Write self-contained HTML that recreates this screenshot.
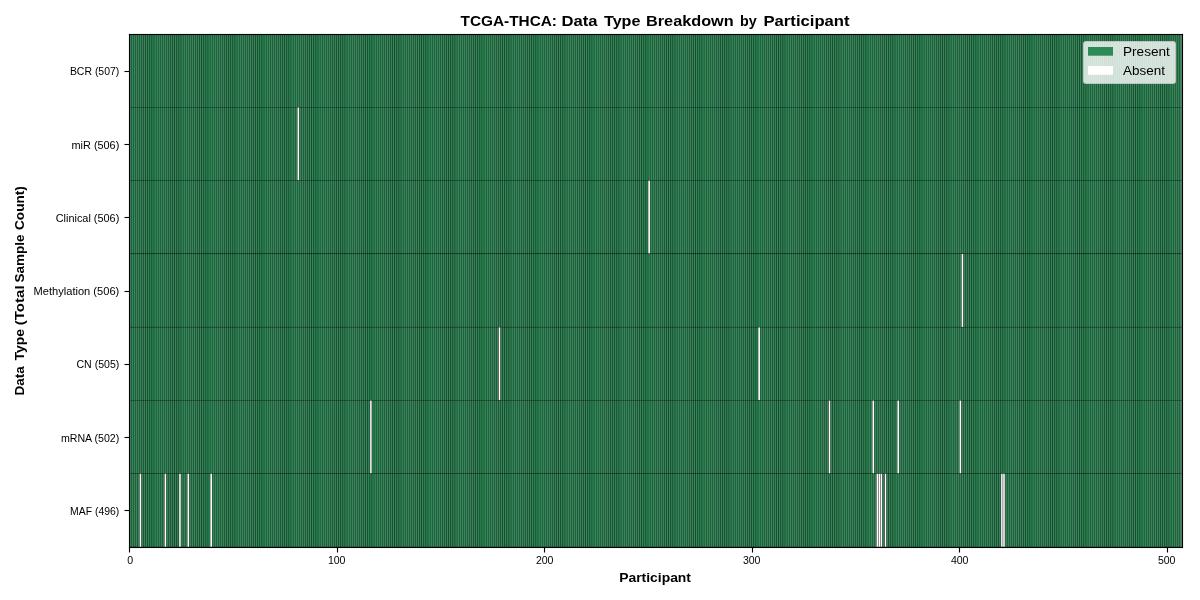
<!DOCTYPE html>
<html><head><meta charset="utf-8"><title>TCGA-THCA: Data Type Breakdown by Participant</title><style>
html,body{margin:0;padding:0;background:#fff;width:1200px;height:600px;overflow:hidden}
svg{display:block;will-change:transform}
text{font-family:"Liberation Sans",sans-serif;fill:#000}
.tk{font-size:10.3px}
.ttl{font-size:14.7px;font-weight:bold}
.lab{font-size:13.2px;font-weight:bold}
.leg{font-size:13.2px}
</style></head><body>
<svg width="1200" height="600" viewBox="0 0 1200 600">
<g shape-rendering="crispEdges" stroke-width="1"><path stroke="#000000" d="M129.5 35V547"/><path stroke="#2b8352" d="M130.5 35V547M341.5 35V547M588.5 35V547M945.5 35V547"/><path stroke="#2a5b40" d="M131.5 35V547M515.5 35V547M625.5 35V547M872.5 35V547M982.5 35V547M1119.5 35V547"/><path stroke="#2e8b57" d="M132.5 35V547M134.5 35V547M136.5 35V547M138.5 35V547M140.5 35V547M142.5 35V547M144.5 35V547M146.5 35V547M157.5 35V547M159.5 35V547M161.5 35V547M163.5 35V547M165.5 35V547M167.5 35V547M169.5 35V547M171.5 35V547M173.5 35V547M175.5 35V547M184.5 35V547M186.5 35V547M188.5 35V547M190.5 35V547M192.5 35V547M194.5 35V547M196.5 35V547M198.5 35V547M200.5 35V547M202.5 35V547M211.5 35V547M213.5 35V547M215.5 35V547M217.5 35V547M219.5 35V547M221.5 35V547M223.5 35V547M225.5 35V547M227.5 35V547M229.5 35V547M238.5 35V547M240.5 35V547M242.5 35V547M244.5 35V547M246.5 35V547M248.5 35V547M250.5 35V547M252.5 35V547M254.5 35V547M256.5 35V547M267.5 35V547M269.5 35V547M271.5 35V547M273.5 35V547M275.5 35V547M277.5 35V547M279.5 35V547M281.5 35V547M283.5 35V547M294.5 35V547M296.5 35V547M298.5 35V547M300.5 35V547M302.5 35V547M304.5 35V547M306.5 35V547M308.5 35V547M310.5 35V547M312.5 35V547M321.5 35V547M323.5 35V547M325.5 35V547M327.5 35V547M329.5 35V547M331.5 35V547M333.5 35V547M335.5 35V547M337.5 35V547M339.5 35V547M348.5 35V547M350.5 35V547M352.5 35V547M354.5 35V547M356.5 35V547M358.5 35V547M360.5 35V547M362.5 35V547M364.5 35V547M366.5 35V547M377.5 35V547M379.5 35V547M381.5 35V547M383.5 35V547M385.5 35V547M387.5 35V547M389.5 35V547M391.5 35V547M393.5 35V547M404.5 35V547M406.5 35V547M408.5 35V547M410.5 35V547M412.5 35V547M414.5 35V547M416.5 35V547M418.5 35V547M420.5 35V547M422.5 35V547M431.5 35V547M433.5 35V547M435.5 35V547M437.5 35V547M439.5 35V547M441.5 35V547M443.5 35V547M445.5 35V547M447.5 35V547M449.5 35V547M458.5 35V547M460.5 35V547M462.5 35V547M464.5 35V547M466.5 35V547M468.5 35V547M470.5 35V547M472.5 35V547M474.5 35V547M476.5 35V547M487.5 35V547M489.5 35V547M491.5 35V547M493.5 35V547M495.5 35V547M497.5 35V547M499.5 35V547M501.5 35V547M503.5 35V547M514.5 35V547M516.5 35V547M518.5 35V547M520.5 35V547M522.5 35V547M524.5 35V547M526.5 35V547M528.5 35V547M530.5 35V547M541.5 35V547M543.5 35V547M545.5 35V547M547.5 35V547M549.5 35V547M551.5 35V547M553.5 35V547M555.5 35V547M557.5 35V547M559.5 35V547M568.5 35V547M570.5 35V547M572.5 35V547M574.5 35V547M576.5 35V547M578.5 35V547M580.5 35V547M582.5 35V547M584.5 35V547M586.5 35V547M595.5 35V547M597.5 35V547M599.5 35V547M601.5 35V547M603.5 35V547M605.5 35V547M607.5 35V547M609.5 35V547M611.5 35V547M613.5 35V547M624.5 35V547M626.5 35V547M628.5 35V547M630.5 35V547M632.5 35V547M634.5 35V547M636.5 35V547M638.5 35V547M640.5 35V547M651.5 35V547M653.5 35V547M655.5 35V547M657.5 35V547M659.5 35V547M661.5 35V547M663.5 35V547M665.5 35V547M667.5 35V547M669.5 35V547M678.5 35V547M680.5 35V547M682.5 35V547M684.5 35V547M686.5 35V547M688.5 35V547M690.5 35V547M692.5 35V547M694.5 35V547M696.5 35V547M705.5 35V547M707.5 35V547M709.5 35V547M711.5 35V547M713.5 35V547M715.5 35V547M717.5 35V547M719.5 35V547M721.5 35V547M723.5 35V547M734.5 35V547M736.5 35V547M738.5 35V547M740.5 35V547M742.5 35V547M744.5 35V547M746.5 35V547M748.5 35V547M750.5 35V547M761.5 35V547M763.5 35V547M765.5 35V547M767.5 35V547M769.5 35V547M771.5 35V547M773.5 35V547M775.5 35V547M777.5 35V547M788.5 35V547M790.5 35V547M792.5 35V547M794.5 35V547M796.5 35V547M798.5 35V547M800.5 35V547M802.5 35V547M804.5 35V547M806.5 35V547M815.5 35V547M817.5 35V547M819.5 35V547M821.5 35V547M823.5 35V547M825.5 35V547M827.5 35V547M829.5 35V547M831.5 35V547M833.5 35V547M842.5 35V547M844.5 35V547M846.5 35V547M848.5 35V547M850.5 35V547M852.5 35V547M854.5 35V547M856.5 35V547M858.5 35V547M860.5 35V547M871.5 35V547M873.5 35V547M875.5 35V547M877.5 35V547M879.5 35V547M881.5 35V547M883.5 35V547M885.5 35V547M887.5 35V547M898.5 35V547M900.5 35V547M902.5 35V547M904.5 35V547M906.5 35V547M908.5 35V547M910.5 35V547M912.5 35V547M914.5 35V547M916.5 35V547M925.5 35V547M927.5 35V547M929.5 35V547M931.5 35V547M933.5 35V547M935.5 35V547M937.5 35V547M939.5 35V547M941.5 35V547M943.5 35V547M952.5 35V547M954.5 35V547M956.5 35V547M958.5 35V547M960.5 35V547M962.5 35V547M964.5 35V547M966.5 35V547M968.5 35V547M970.5 35V547M981.5 35V547M983.5 35V547M985.5 35V547M987.5 35V547M989.5 35V547M991.5 35V547M993.5 35V547M995.5 35V547M997.5 35V547M1008.5 35V547M1010.5 35V547M1012.5 35V547M1014.5 35V547M1016.5 35V547M1018.5 35V547M1020.5 35V547M1022.5 35V547M1024.5 35V547M1035.5 35V547M1037.5 35V547M1039.5 35V547M1041.5 35V547M1043.5 35V547M1045.5 35V547M1047.5 35V547M1049.5 35V547M1051.5 35V547M1053.5 35V547M1062.5 35V547M1064.5 35V547M1066.5 35V547M1068.5 35V547M1070.5 35V547M1072.5 35V547M1074.5 35V547M1076.5 35V547M1078.5 35V547M1080.5 35V547M1089.5 35V547M1091.5 35V547M1093.5 35V547M1095.5 35V547M1097.5 35V547M1099.5 35V547M1101.5 35V547M1103.5 35V547M1105.5 35V547M1107.5 35V547M1118.5 35V547M1120.5 35V547M1122.5 35V547M1124.5 35V547M1126.5 35V547M1128.5 35V547M1130.5 35V547M1132.5 35V547M1134.5 35V547M1145.5 35V547M1147.5 35V547M1149.5 35V547M1151.5 35V547M1153.5 35V547M1155.5 35V547M1157.5 35V547M1159.5 35V547M1161.5 35V547M1163.5 35V547M1172.5 35V547M1174.5 35V547M1176.5 35V547M1178.5 35V547M1180.5 35V547"/><path stroke="#2c5a41" d="M133.5 35V547M270.5 35V547M380.5 35V547M490.5 35V547M517.5 35V547M627.5 35V547M737.5 35V547M764.5 35V547M874.5 35V547M984.5 35V547M1121.5 35V547"/><path stroke="#2e5941" d="M135.5 35V547M162.5 35V547M189.5 35V547M245.5 35V547M272.5 35V547M299.5 35V547M382.5 35V547M409.5 35V547M436.5 35V547M492.5 35V547M519.5 35V547M546.5 35V547M629.5 35V547M656.5 35V547M683.5 35V547M739.5 35V547M766.5 35V547M793.5 35V547M849.5 35V547M876.5 35V547M903.5 35V547M986.5 35V547M1013.5 35V547M1040.5 35V547M1096.5 35V547M1123.5 35V547M1150.5 35V547"/><path stroke="#2e5740" d="M137.5 35V547M164.5 35V547M191.5 35V547M247.5 35V547M274.5 35V547M357.5 35V547M384.5 35V547M411.5 35V547M494.5 35V547M521.5 35V547M604.5 35V547M631.5 35V547M741.5 35V547M768.5 35V547M851.5 35V547M878.5 35V547M988.5 35V547M1015.5 35V547M1098.5 35V547M1125.5 35V547"/><path stroke="#2d543f" d="M139.5 35V547"/><path stroke="#2b523c" d="M141.5 35V547M388.5 35V547M635.5 35V547"/><path stroke="#294e39" d="M143.5 35V547M280.5 35V547M390.5 35V547M527.5 35V547M637.5 35V547M774.5 35V547M884.5 35V547M1131.5 35V547"/><path stroke="#254a35" d="M145.5 35V547M392.5 35V547"/><path stroke="#224932" d="M147.5 35V547"/><path stroke="#2d8855" d="M148.5 35V547M395.5 35V547M642.5 35V547M889.5 35V547"/><path stroke="#225337" d="M149.5 35V547M396.5 35V547M643.5 35V547"/><path stroke="#297d4e" d="M150.5 35V547M397.5 35V547M754.5 35V547M1001.5 35V547"/><path stroke="#1e5c3a" d="M151.5 35V547M398.5 35V547"/><path stroke="#267348" d="M152.5 35V547M399.5 35V547M646.5 35V547"/><path stroke="#246f46" d="M153.5 35V547M400.5 35V547"/><path stroke="#296a46" d="M154.5 35V547M511.5 35V547M758.5 35V547"/><path stroke="#2a8351" d="M155.5 35V547M402.5 35V547M649.5 35V547"/><path stroke="#296041" d="M156.5 35V547M403.5 35V547"/><path stroke="#2a5c40" d="M158.5 35V547"/><path stroke="#2c5b41" d="M160.5 35V547M187.5 35V547M324.5 35V547M434.5 35V547M544.5 35V547M571.5 35V547M654.5 35V547M681.5 35V547M791.5 35V547M818.5 35V547M901.5 35V547M928.5 35V547M1011.5 35V547M1038.5 35V547M1065.5 35V547M1148.5 35V547M1175.5 35V547"/><path stroke="#2e553f" d="M166.5 35V547M193.5 35V547M303.5 35V547M413.5 35V547M440.5 35V547M550.5 35V547M660.5 35V547M687.5 35V547M797.5 35V547M907.5 35V547M934.5 35V547M1044.5 35V547M1154.5 35V547"/><path stroke="#2c523d" d="M168.5 35V547M415.5 35V547M525.5 35V547M662.5 35V547M772.5 35V547M909.5 35V547M1019.5 35V547M1156.5 35V547"/><path stroke="#294f39" d="M170.5 35V547M417.5 35V547M664.5 35V547M911.5 35V547M1021.5 35V547M1158.5 35V547"/><path stroke="#254a36" d="M172.5 35V547M282.5 35V547M419.5 35V547M529.5 35V547M639.5 35V547M666.5 35V547M776.5 35V547M886.5 35V547M913.5 35V547M1023.5 35V547M1133.5 35V547"/><path stroke="#204631" d="M174.5 35V547M421.5 35V547"/><path stroke="#225037" d="M176.5 35V547M917.5 35V547M1164.5 35V547"/><path stroke="#2a8050" d="M177.5 35V547M424.5 35V547M671.5 35V547M918.5 35V547"/><path stroke="#205a39" d="M178.5 35V547M425.5 35V547M672.5 35V547M1166.5 35V547"/><path stroke="#267549" d="M179.5 35V547M236.5 35V547M426.5 35V547M483.5 35V547M730.5 35V547M783.5 35V547M1030.5 35V547"/><path stroke="#236b43" d="M180.5 35V547"/><path stroke="#286c47" d="M181.5 35V547M428.5 35V547M675.5 35V547"/><path stroke="#2a7f4f" d="M182.5 35V547M287.5 35V547M429.5 35V547M534.5 35V547M781.5 35V547M786.5 35V547M1028.5 35V547M1033.5 35V547"/><path stroke="#296242" d="M183.5 35V547M540.5 35V547M787.5 35V547M1034.5 35V547"/><path stroke="#295b3f" d="M185.5 35V547M212.5 35V547M322.5 35V547M432.5 35V547M542.5 35V547M596.5 35V547M706.5 35V547M789.5 35V547M816.5 35V547M926.5 35V547M953.5 35V547M1036.5 35V547M1063.5 35V547M1173.5 35V547"/><path stroke="#2c533d" d="M195.5 35V547M305.5 35V547M442.5 35V547M552.5 35V547M689.5 35V547M799.5 35V547M936.5 35V547M1046.5 35V547"/><path stroke="#2a503a" d="M197.5 35V547M444.5 35V547M691.5 35V547M801.5 35V547M938.5 35V547M1048.5 35V547"/><path stroke="#264c37" d="M199.5 35V547M446.5 35V547M693.5 35V547"/><path stroke="#224732" d="M201.5 35V547M448.5 35V547M695.5 35V547M942.5 35V547"/><path stroke="#214e35" d="M203.5 35V547M450.5 35V547"/><path stroke="#2b8251" d="M204.5 35V547M451.5 35V547M698.5 35V547M1055.5 35V547"/><path stroke="#215939" d="M205.5 35V547"/><path stroke="#27774b" d="M206.5 35V547"/><path stroke="#216640" d="M207.5 35V547M454.5 35V547M701.5 35V547"/><path stroke="#286f47" d="M208.5 35V547M702.5 35V547M949.5 35V547"/><path stroke="#287a4c" d="M209.5 35V547M233.5 35V547M480.5 35V547M727.5 35V547M1084.5 35V547"/><path stroke="#2a6544" d="M210.5 35V547M457.5 35V547M951.5 35V547"/><path stroke="#2b5b40" d="M214.5 35V547M241.5 35V547M351.5 35V547M461.5 35V547M708.5 35V547M735.5 35V547M845.5 35V547M955.5 35V547M1092.5 35V547"/><path stroke="#2d5b42" d="M216.5 35V547"/><path stroke="#2e5841" d="M218.5 35V547M328.5 35V547M355.5 35V547M438.5 35V547M465.5 35V547M575.5 35V547M602.5 35V547M685.5 35V547M712.5 35V547M822.5 35V547M932.5 35V547M959.5 35V547M1069.5 35V547M1179.5 35V547"/><path stroke="#2e5640" d="M220.5 35V547M467.5 35V547M714.5 35V547M961.5 35V547"/><path stroke="#2c543e" d="M222.5 35V547M359.5 35V547M469.5 35V547M606.5 35V547M716.5 35V547M853.5 35V547M1073.5 35V547M1100.5 35V547"/><path stroke="#2a503b" d="M224.5 35V547M334.5 35V547M471.5 35V547M581.5 35V547M718.5 35V547M828.5 35V547M965.5 35V547M1075.5 35V547"/><path stroke="#274c38" d="M226.5 35V547M473.5 35V547M830.5 35V547M1077.5 35V547"/><path stroke="#234833" d="M228.5 35V547M338.5 35V547M475.5 35V547M585.5 35V547M722.5 35V547M832.5 35V547M1079.5 35V547"/><path stroke="#224c34" d="M230.5 35V547M477.5 35V547M1081.5 35V547"/><path stroke="#2c8553" d="M231.5 35V547M265.5 35V547M478.5 35V547M512.5 35V547M725.5 35V547M759.5 35V547M972.5 35V547M1116.5 35V547"/><path stroke="#215638" d="M232.5 35V547M479.5 35V547M726.5 35V547M836.5 35V547M973.5 35V547M1083.5 35V547"/><path stroke="#20633d" d="M234.5 35V547M481.5 35V547"/><path stroke="#277047" d="M235.5 35V547M1086.5 35V547"/><path stroke="#2a6745" d="M237.5 35V547"/><path stroke="#285c3f" d="M239.5 35V547M486.5 35V547M733.5 35V547M980.5 35V547"/><path stroke="#2d5a41" d="M243.5 35V547M326.5 35V547M353.5 35V547M463.5 35V547M573.5 35V547M600.5 35V547M710.5 35V547M820.5 35V547M847.5 35V547M930.5 35V547M957.5 35V547M1067.5 35V547M1094.5 35V547M1177.5 35V547"/><path stroke="#2d543e" d="M249.5 35V547M496.5 35V547M743.5 35V547M963.5 35V547M990.5 35V547"/><path stroke="#2b513c" d="M251.5 35V547M498.5 35V547M745.5 35V547M992.5 35V547M1102.5 35V547"/><path stroke="#284e38" d="M253.5 35V547"/><path stroke="#244934" d="M255.5 35V547M502.5 35V547M859.5 35V547M1106.5 35V547"/><path stroke="#214a33" d="M257.5 35V547M998.5 35V547"/><path stroke="#2c8754" d="M258.5 35V547M375.5 35V547M505.5 35V547M622.5 35V547M752.5 35V547M869.5 35V547M999.5 35V547"/><path stroke="#215436" d="M259.5 35V547"/><path stroke="#297c4e" d="M260.5 35V547M507.5 35V547"/><path stroke="#1f5f3a" d="M261.5 35V547M508.5 35V547M755.5 35V547M1002.5 35V547"/><path stroke="#257247" d="M262.5 35V547M509.5 35V547M756.5 35V547M867.5 35V547M1114.5 35V547"/><path stroke="#257146" d="M263.5 35V547M510.5 35V547"/><path stroke="#296946" d="M264.5 35V547"/><path stroke="#285e41" d="M266.5 35V547"/><path stroke="#2b5c40" d="M268.5 35V547M378.5 35V547M488.5 35V547M598.5 35V547"/><path stroke="#2d553f" d="M276.5 35V547M386.5 35V547M523.5 35V547M633.5 35V547M770.5 35V547M880.5 35V547M1017.5 35V547M1127.5 35V547"/><path stroke="#2b523d" d="M278.5 35V547"/><path stroke="#214732" d="M284.5 35V547M311.5 35V547M531.5 35V547M558.5 35V547M668.5 35V547M805.5 35V547M915.5 35V547M1052.5 35V547M1162.5 35V547"/><path stroke="#2d8956" d="M285.5 35V547M532.5 35V547M779.5 35V547"/><path stroke="#215138" d="M286.5 35V547"/><path stroke="#1e5b39" d="M288.5 35V547"/><path stroke="#267449" d="M289.5 35V547M536.5 35V547"/><path stroke="#236d44" d="M290.5 35V547M537.5 35V547M784.5 35V547M1031.5 35V547"/><path stroke="#296c47" d="M291.5 35V547M538.5 35V547"/><path stroke="#2a8150" d="M292.5 35V547M539.5 35V547M1165.5 35V547"/><path stroke="#296141" d="M293.5 35V547"/><path stroke="#2a5b3f" d="M295.5 35V547M405.5 35V547M652.5 35V547M762.5 35V547M899.5 35V547M1009.5 35V547M1146.5 35V547"/><path stroke="#2d5b41" d="M297.5 35V547M407.5 35V547"/><path stroke="#2e5741" d="M301.5 35V547M548.5 35V547M658.5 35V547M795.5 35V547M905.5 35V547M1042.5 35V547M1152.5 35V547"/><path stroke="#294f3a" d="M307.5 35V547M554.5 35V547"/><path stroke="#264b36" d="M309.5 35V547M556.5 35V547M803.5 35V547"/><path stroke="#214f35" d="M313.5 35V547M560.5 35V547"/><path stroke="#2a8151" d="M314.5 35V547M561.5 35V547M808.5 35V547M896.5 35V547M1143.5 35V547"/><path stroke="#20593a" d="M315.5 35V547M562.5 35V547"/><path stroke="#27764a" d="M316.5 35V547M673.5 35V547M920.5 35V547M1167.5 35V547"/><path stroke="#226941" d="M317.5 35V547M564.5 35V547M811.5 35V547"/><path stroke="#286e47" d="M318.5 35V547M565.5 35V547M812.5 35V547M1059.5 35V547"/><path stroke="#287c4d" d="M319.5 35V547"/><path stroke="#296443" d="M320.5 35V547M567.5 35V547M814.5 35V547"/><path stroke="#2e563f" d="M330.5 35V547M577.5 35V547M824.5 35V547M1071.5 35V547"/><path stroke="#2c543d" d="M332.5 35V547M579.5 35V547M826.5 35V547"/><path stroke="#274c37" d="M336.5 35V547M583.5 35V547M940.5 35V547"/><path stroke="#214d35" d="M340.5 35V547"/><path stroke="#205638" d="M342.5 35V547M589.5 35V547"/><path stroke="#28794c" d="M343.5 35V547M590.5 35V547M837.5 35V547"/><path stroke="#21643f" d="M344.5 35V547M591.5 35V547"/><path stroke="#276f47" d="M345.5 35V547"/><path stroke="#27774a" d="M346.5 35V547M563.5 35V547M593.5 35V547M810.5 35V547M840.5 35V547M1057.5 35V547"/><path stroke="#296644" d="M347.5 35V547M594.5 35V547"/><path stroke="#295c3f" d="M349.5 35V547"/><path stroke="#2a513b" d="M361.5 35V547M608.5 35V547M855.5 35V547"/><path stroke="#284d38" d="M363.5 35V547M610.5 35V547M857.5 35V547M1104.5 35V547"/><path stroke="#234934" d="M365.5 35V547M612.5 35V547"/><path stroke="#224b34" d="M367.5 35V547"/><path stroke="#2c8653" d="M368.5 35V547"/><path stroke="#215537" d="M369.5 35V547"/><path stroke="#287b4d" d="M370.5 35V547M566.5 35V547M617.5 35V547M813.5 35V547M974.5 35V547M1060.5 35V547"/><path stroke="#1f613d" d="M371.5 35V547"/><path stroke="#267147" d="M372.5 35V547M619.5 35V547M976.5 35V547M1113.5 35V547"/><path stroke="#267448" d="M373.5 35V547M620.5 35V547M893.5 35V547M977.5 35V547M1140.5 35V547"/><path stroke="#296845" d="M374.5 35V547M731.5 35V547M978.5 35V547"/><path stroke="#295d40" d="M376.5 35V547"/><path stroke="#224832" d="M394.5 35V547M641.5 35V547M888.5 35V547M1135.5 35V547"/><path stroke="#296b46" d="M401.5 35V547M648.5 35V547M785.5 35V547"/><path stroke="#215036" d="M423.5 35V547M670.5 35V547"/><path stroke="#236b42" d="M427.5 35V547M674.5 35V547M921.5 35V547"/><path stroke="#296343" d="M430.5 35V547M677.5 35V547M924.5 35V547M1171.5 35V547"/><path stroke="#205838" d="M452.5 35V547M699.5 35V547"/><path stroke="#27784b" d="M453.5 35V547M700.5 35V547M947.5 35V547"/><path stroke="#286f46" d="M455.5 35V547"/><path stroke="#28794b" d="M456.5 35V547M703.5 35V547M950.5 35V547"/><path stroke="#295c40" d="M459.5 35V547M569.5 35V547M679.5 35V547"/><path stroke="#277147" d="M482.5 35V547M729.5 35V547"/><path stroke="#296745" d="M484.5 35V547"/><path stroke="#2c8955" d="M485.5 35V547M732.5 35V547M979.5 35V547"/><path stroke="#284e39" d="M500.5 35V547M747.5 35V547M994.5 35V547"/><path stroke="#214a32" d="M504.5 35V547M751.5 35V547"/><path stroke="#215437" d="M506.5 35V547M753.5 35V547"/><path stroke="#285f41" d="M513.5 35V547"/><path stroke="#215137" d="M533.5 35V547M780.5 35V547M1027.5 35V547"/><path stroke="#1f5b3a" d="M535.5 35V547M782.5 35V547"/><path stroke="#224d35" d="M587.5 35V547M834.5 35V547"/><path stroke="#287048" d="M592.5 35V547M839.5 35V547"/><path stroke="#224a33" d="M614.5 35V547M861.5 35V547M1108.5 35V547"/><path stroke="#2c8654" d="M615.5 35V547M862.5 35V547M1109.5 35V547"/><path stroke="#215538" d="M616.5 35V547M863.5 35V547"/><path stroke="#1f603c" d="M618.5 35V547M865.5 35V547M1112.5 35V547"/><path stroke="#296945" d="M621.5 35V547M868.5 35V547M1115.5 35V547"/><path stroke="#285d40" d="M623.5 35V547"/><path stroke="#297e4f" d="M644.5 35V547M891.5 35V547M1138.5 35V547"/><path stroke="#1f5c3b" d="M645.5 35V547M892.5 35V547"/><path stroke="#246e44" d="M647.5 35V547M894.5 35V547M1141.5 35V547"/><path stroke="#296042" d="M650.5 35V547M897.5 35V547"/><path stroke="#287d4e" d="M676.5 35V547M923.5 35V547M1170.5 35V547"/><path stroke="#224e35" d="M697.5 35V547M944.5 35V547"/><path stroke="#296543" d="M704.5 35V547"/><path stroke="#274d38" d="M720.5 35V547M967.5 35V547"/><path stroke="#214b34" d="M724.5 35V547M971.5 35V547"/><path stroke="#20623d" d="M728.5 35V547M975.5 35V547"/><path stroke="#244a34" d="M749.5 35V547M996.5 35V547"/><path stroke="#247046" d="M757.5 35V547M1004.5 35V547"/><path stroke="#295f41" d="M760.5 35V547M1007.5 35V547"/><path stroke="#204732" d="M778.5 35V547M1025.5 35V547"/><path stroke="#214f36" d="M807.5 35V547M1054.5 35V547"/><path stroke="#205839" d="M809.5 35V547M946.5 35V547"/><path stroke="#2b8452" d="M835.5 35V547M1082.5 35V547"/><path stroke="#21643e" d="M838.5 35V547M1085.5 35V547"/><path stroke="#2a6744" d="M841.5 35V547M1088.5 35V547"/><path stroke="#285b3f" d="M843.5 35V547M1090.5 35V547"/><path stroke="#297c4d" d="M864.5 35V547M1111.5 35V547"/><path stroke="#267146" d="M866.5 35V547"/><path stroke="#295e40" d="M870.5 35V547M1117.5 35V547"/><path stroke="#2c523c" d="M882.5 35V547M1129.5 35V547"/><path stroke="#225237" d="M890.5 35V547M1137.5 35V547"/><path stroke="#286b46" d="M895.5 35V547"/><path stroke="#205939" d="M919.5 35V547M1056.5 35V547"/><path stroke="#296d47" d="M922.5 35V547M1169.5 35V547"/><path stroke="#21663f" d="M948.5 35V547"/><path stroke="#234834" d="M969.5 35V547"/><path stroke="#215337" d="M1000.5 35V547"/><path stroke="#267347" d="M1003.5 35V547"/><path stroke="#296a45" d="M1005.5 35V547"/><path stroke="#2a8352" d="M1006.5 35V547"/><path stroke="#2d8a56" d="M1026.5 35V547"/><path stroke="#1f5b39" d="M1029.5 35V547"/><path stroke="#296c46" d="M1032.5 35V547M1142.5 35V547"/><path stroke="#274c36" d="M1050.5 35V547"/><path stroke="#216841" d="M1058.5 35V547"/><path stroke="#296444" d="M1061.5 35V547"/><path stroke="#26764a" d="M1087.5 35V547"/><path stroke="#215438" d="M1110.5 35V547"/><path stroke="#2d8955" d="M1136.5 35V547"/><path stroke="#1f5c39" d="M1139.5 35V547"/><path stroke="#286041" d="M1144.5 35V547"/><path stroke="#254b36" d="M1160.5 35V547"/><path stroke="#226942" d="M1168.5 35V547"/><path stroke="#5b7867" d="M1181.5 35V547"/></g><g shape-rendering="crispEdges"><rect x="128" y="33" width="1" height="1" fill="#fdfdfd"/><rect x="129" y="33" width="1" height="1" fill="#e3e3e3"/><rect x="130" y="33" width="1" height="1" fill="#f0f0f0"/><rect x="131" y="33" width="1050" height="1" fill="#f1f1f1"/><rect x="1181" y="33" width="1" height="1" fill="#f0f0f0"/><rect x="1182" y="33" width="1" height="1" fill="#e3e3e3"/><rect x="1183" y="33" width="1" height="1" fill="#fdfdfd"/><rect x="128" y="34" width="1" height="1" fill="#e3e3e3"/><rect x="129" y="34" width="1054" height="1" fill="#000000"/><rect x="1183" y="34" width="1" height="1" fill="#e3e3e3"/><rect x="129" y="35" width="1053" height="1" fill="#000" fill-opacity="0.060"/><rect x="128" y="35" width="1" height="1" fill="#f0f0f0"/><rect x="1182" y="35" width="1" height="1" fill="#000000"/><rect x="1183" y="35" width="1" height="1" fill="#f0f0f0"/><rect x="128" y="36" width="1" height="34" fill="#f1f1f1"/><rect x="1182" y="36" width="1" height="34" fill="#000000"/><rect x="1183" y="36" width="1" height="34" fill="#f1f1f1"/><rect x="124" y="70" width="1" height="1" fill="#f8f8f8"/><rect x="125" y="70" width="3" height="1" fill="#f1f1f1"/><rect x="128" y="70" width="1" height="1" fill="#e3e3e3"/><rect x="1182" y="70" width="1" height="1" fill="#000000"/><rect x="1183" y="70" width="1" height="1" fill="#f1f1f1"/><rect x="124" y="71" width="1" height="1" fill="#7f7f7f"/><rect x="125" y="71" width="4" height="1" fill="#000000"/><rect x="1182" y="71" width="1" height="1" fill="#000000"/><rect x="1183" y="71" width="1" height="1" fill="#f1f1f1"/><rect x="124" y="72" width="1" height="1" fill="#f8f8f8"/><rect x="125" y="72" width="3" height="1" fill="#f1f1f1"/><rect x="128" y="72" width="1" height="1" fill="#e3e3e3"/><rect x="1182" y="72" width="1" height="1" fill="#000000"/><rect x="1183" y="72" width="1" height="1" fill="#f1f1f1"/><rect x="128" y="73" width="1" height="34" fill="#f1f1f1"/><rect x="1182" y="73" width="1" height="34" fill="#000000"/><rect x="1183" y="73" width="1" height="34" fill="#f1f1f1"/><rect x="129" y="107" width="1053" height="1" fill="#000" fill-opacity="0.314"/><rect x="128" y="107" width="1" height="1" fill="#f1f1f1"/><rect x="297" y="107" width="1" height="1" fill="#525855"/><rect x="298" y="107" width="1" height="1" fill="#8e918f"/><rect x="1182" y="107" width="1" height="1" fill="#000000"/><rect x="1183" y="107" width="1" height="1" fill="#f1f1f1"/><rect x="128" y="108" width="1" height="35" fill="#f1f1f1"/><rect x="297" y="108" width="1" height="35" fill="#8e9290"/><rect x="298" y="108" width="1" height="35" fill="#ffffff"/><rect x="299" y="108" width="1" height="35" fill="#39604a"/><rect x="1182" y="108" width="1" height="35" fill="#000000"/><rect x="1183" y="108" width="1" height="35" fill="#f1f1f1"/><rect x="124" y="143" width="1" height="1" fill="#f8f8f8"/><rect x="125" y="143" width="3" height="1" fill="#f1f1f1"/><rect x="128" y="143" width="1" height="1" fill="#e3e3e3"/><rect x="297" y="143" width="1" height="1" fill="#8e9290"/><rect x="298" y="143" width="1" height="1" fill="#ffffff"/><rect x="299" y="143" width="1" height="1" fill="#39604a"/><rect x="1182" y="143" width="1" height="1" fill="#000000"/><rect x="1183" y="143" width="1" height="1" fill="#f1f1f1"/><rect x="124" y="144" width="1" height="1" fill="#7f7f7f"/><rect x="125" y="144" width="4" height="1" fill="#000000"/><rect x="297" y="144" width="1" height="1" fill="#8e9290"/><rect x="298" y="144" width="1" height="1" fill="#ffffff"/><rect x="299" y="144" width="1" height="1" fill="#39604a"/><rect x="1182" y="144" width="1" height="1" fill="#000000"/><rect x="1183" y="144" width="1" height="1" fill="#f1f1f1"/><rect x="124" y="145" width="1" height="1" fill="#f8f8f8"/><rect x="125" y="145" width="3" height="1" fill="#f1f1f1"/><rect x="128" y="145" width="1" height="1" fill="#e3e3e3"/><rect x="297" y="145" width="1" height="1" fill="#8e9290"/><rect x="298" y="145" width="1" height="1" fill="#ffffff"/><rect x="299" y="145" width="1" height="1" fill="#39604a"/><rect x="1182" y="145" width="1" height="1" fill="#000000"/><rect x="1183" y="145" width="1" height="1" fill="#f1f1f1"/><rect x="128" y="146" width="1" height="34" fill="#f1f1f1"/><rect x="297" y="146" width="1" height="34" fill="#8e9290"/><rect x="298" y="146" width="1" height="34" fill="#ffffff"/><rect x="299" y="146" width="1" height="34" fill="#39604a"/><rect x="1182" y="146" width="1" height="34" fill="#000000"/><rect x="1183" y="146" width="1" height="34" fill="#f1f1f1"/><rect x="129" y="180" width="1053" height="1" fill="#000" fill-opacity="0.345"/><rect x="128" y="180" width="1" height="1" fill="#f1f1f1"/><rect x="298" y="180" width="1" height="1" fill="#4a6455"/><rect x="648" y="180" width="1" height="1" fill="#4f5853"/><rect x="649" y="180" width="1" height="1" fill="#636f68"/><rect x="1182" y="180" width="1" height="1" fill="#000000"/><rect x="1183" y="180" width="1" height="1" fill="#f1f1f1"/><rect x="128" y="181" width="1" height="35" fill="#f1f1f1"/><rect x="648" y="181" width="1" height="35" fill="#bcbdbc"/><rect x="649" y="181" width="1" height="35" fill="#f1f1f1"/><rect x="650" y="181" width="1" height="35" fill="#2b6243"/><rect x="1182" y="181" width="1" height="35" fill="#000000"/><rect x="1183" y="181" width="1" height="35" fill="#f1f1f1"/><rect x="124" y="216" width="1" height="1" fill="#f8f8f8"/><rect x="125" y="216" width="3" height="1" fill="#f1f1f1"/><rect x="128" y="216" width="1" height="1" fill="#e3e3e3"/><rect x="648" y="216" width="1" height="1" fill="#bcbdbc"/><rect x="649" y="216" width="1" height="1" fill="#f1f1f1"/><rect x="650" y="216" width="1" height="1" fill="#2b6243"/><rect x="1182" y="216" width="1" height="1" fill="#000000"/><rect x="1183" y="216" width="1" height="1" fill="#f1f1f1"/><rect x="124" y="217" width="1" height="1" fill="#7f7f7f"/><rect x="125" y="217" width="4" height="1" fill="#000000"/><rect x="648" y="217" width="1" height="1" fill="#bcbdbc"/><rect x="649" y="217" width="1" height="1" fill="#f1f1f1"/><rect x="650" y="217" width="1" height="1" fill="#2b6243"/><rect x="1182" y="217" width="1" height="1" fill="#000000"/><rect x="1183" y="217" width="1" height="1" fill="#f1f1f1"/><rect x="124" y="218" width="1" height="1" fill="#f8f8f8"/><rect x="125" y="218" width="3" height="1" fill="#f1f1f1"/><rect x="128" y="218" width="1" height="1" fill="#e3e3e3"/><rect x="648" y="218" width="1" height="1" fill="#bcbdbc"/><rect x="649" y="218" width="1" height="1" fill="#f1f1f1"/><rect x="650" y="218" width="1" height="1" fill="#2b6243"/><rect x="1182" y="218" width="1" height="1" fill="#000000"/><rect x="1183" y="218" width="1" height="1" fill="#f1f1f1"/><rect x="128" y="219" width="1" height="34" fill="#f1f1f1"/><rect x="648" y="219" width="1" height="34" fill="#bcbdbc"/><rect x="649" y="219" width="1" height="34" fill="#f1f1f1"/><rect x="650" y="219" width="1" height="34" fill="#2b6243"/><rect x="1182" y="219" width="1" height="34" fill="#000000"/><rect x="1183" y="219" width="1" height="34" fill="#f1f1f1"/><rect x="129" y="253" width="1053" height="1" fill="#000" fill-opacity="0.439"/><rect x="128" y="253" width="1" height="1" fill="#f1f1f1"/><rect x="648" y="253" width="1" height="1" fill="#47514b"/><rect x="649" y="253" width="1" height="1" fill="#626c66"/><rect x="962" y="253" width="1" height="1" fill="#365644"/><rect x="1181" y="253" width="1" height="1" fill="#41564b"/><rect x="1182" y="253" width="1" height="1" fill="#000000"/><rect x="1183" y="253" width="1" height="1" fill="#f1f1f1"/><rect x="129" y="254" width="1053" height="1" fill="#000" fill-opacity="0.035"/><rect x="128" y="254" width="1" height="1" fill="#f1f1f1"/><rect x="961" y="254" width="1" height="1" fill="#707974"/><rect x="962" y="254" width="1" height="1" fill="#f7f7f7"/><rect x="963" y="254" width="1" height="1" fill="#455f51"/><rect x="1182" y="254" width="1" height="1" fill="#000000"/><rect x="1183" y="254" width="1" height="1" fill="#f1f1f1"/><rect x="128" y="255" width="1" height="35" fill="#f1f1f1"/><rect x="961" y="255" width="1" height="35" fill="#737d78"/><rect x="962" y="255" width="1" height="35" fill="#ffffff"/><rect x="963" y="255" width="1" height="35" fill="#496455"/><rect x="1182" y="255" width="1" height="35" fill="#000000"/><rect x="1183" y="255" width="1" height="35" fill="#f1f1f1"/><rect x="124" y="290" width="1" height="1" fill="#f8f8f8"/><rect x="125" y="290" width="3" height="1" fill="#f1f1f1"/><rect x="128" y="290" width="1" height="1" fill="#e3e3e3"/><rect x="961" y="290" width="1" height="1" fill="#737d78"/><rect x="962" y="290" width="1" height="1" fill="#ffffff"/><rect x="963" y="290" width="1" height="1" fill="#496455"/><rect x="1182" y="290" width="1" height="1" fill="#000000"/><rect x="1183" y="290" width="1" height="1" fill="#f1f1f1"/><rect x="124" y="291" width="1" height="1" fill="#7f7f7f"/><rect x="125" y="291" width="4" height="1" fill="#000000"/><rect x="961" y="291" width="1" height="1" fill="#737d78"/><rect x="962" y="291" width="1" height="1" fill="#ffffff"/><rect x="963" y="291" width="1" height="1" fill="#496455"/><rect x="1182" y="291" width="1" height="1" fill="#000000"/><rect x="1183" y="291" width="1" height="1" fill="#f1f1f1"/><rect x="124" y="292" width="1" height="1" fill="#f8f8f8"/><rect x="125" y="292" width="3" height="1" fill="#f1f1f1"/><rect x="128" y="292" width="1" height="1" fill="#e3e3e3"/><rect x="961" y="292" width="1" height="1" fill="#737d78"/><rect x="962" y="292" width="1" height="1" fill="#ffffff"/><rect x="963" y="292" width="1" height="1" fill="#496455"/><rect x="1182" y="292" width="1" height="1" fill="#000000"/><rect x="1183" y="292" width="1" height="1" fill="#f1f1f1"/><rect x="128" y="293" width="1" height="33" fill="#f1f1f1"/><rect x="961" y="293" width="1" height="33" fill="#737d78"/><rect x="962" y="293" width="1" height="33" fill="#ffffff"/><rect x="963" y="293" width="1" height="33" fill="#496455"/><rect x="1182" y="293" width="1" height="33" fill="#000000"/><rect x="1183" y="293" width="1" height="33" fill="#f1f1f1"/><rect x="129" y="326" width="1053" height="1" fill="#000" fill-opacity="0.072"/><rect x="128" y="326" width="1" height="1" fill="#f1f1f1"/><rect x="961" y="326" width="1" height="1" fill="#6b746f"/><rect x="962" y="326" width="1" height="1" fill="#efefef"/><rect x="963" y="326" width="1" height="1" fill="#435c4e"/><rect x="1182" y="326" width="1" height="1" fill="#000000"/><rect x="1183" y="326" width="1" height="1" fill="#f1f1f1"/><rect x="129" y="327" width="1053" height="1" fill="#000" fill-opacity="0.295"/><rect x="128" y="327" width="1" height="1" fill="#f1f1f1"/><rect x="498" y="327" width="1" height="1" fill="#434e48"/><rect x="499" y="327" width="1" height="1" fill="#a3a4a3"/><rect x="500" y="327" width="1" height="1" fill="#35453c"/><rect x="758" y="327" width="1" height="1" fill="#717271"/><rect x="759" y="327" width="1" height="1" fill="#9c9c9c"/><rect x="1182" y="327" width="1" height="1" fill="#000000"/><rect x="1183" y="327" width="1" height="1" fill="#f1f1f1"/><rect x="128" y="328" width="1" height="35" fill="#f1f1f1"/><rect x="498" y="328" width="1" height="35" fill="#5e6e65"/><rect x="499" y="328" width="1" height="35" fill="#ffffff"/><rect x="500" y="328" width="1" height="35" fill="#54665c"/><rect x="758" y="328" width="1" height="35" fill="#bababa"/><rect x="759" y="328" width="1" height="35" fill="#f5f5f5"/><rect x="760" y="328" width="1" height="35" fill="#2b6142"/><rect x="1182" y="328" width="1" height="35" fill="#000000"/><rect x="1183" y="328" width="1" height="35" fill="#f1f1f1"/><rect x="124" y="363" width="1" height="1" fill="#f8f8f8"/><rect x="125" y="363" width="3" height="1" fill="#f1f1f1"/><rect x="128" y="363" width="1" height="1" fill="#e3e3e3"/><rect x="498" y="363" width="1" height="1" fill="#5e6e65"/><rect x="499" y="363" width="1" height="1" fill="#ffffff"/><rect x="500" y="363" width="1" height="1" fill="#54665c"/><rect x="758" y="363" width="1" height="1" fill="#bababa"/><rect x="759" y="363" width="1" height="1" fill="#f5f5f5"/><rect x="760" y="363" width="1" height="1" fill="#2b6142"/><rect x="1182" y="363" width="1" height="1" fill="#000000"/><rect x="1183" y="363" width="1" height="1" fill="#f1f1f1"/><rect x="124" y="364" width="1" height="1" fill="#7f7f7f"/><rect x="125" y="364" width="4" height="1" fill="#000000"/><rect x="498" y="364" width="1" height="1" fill="#5e6e65"/><rect x="499" y="364" width="1" height="1" fill="#ffffff"/><rect x="500" y="364" width="1" height="1" fill="#54665c"/><rect x="758" y="364" width="1" height="1" fill="#bababa"/><rect x="759" y="364" width="1" height="1" fill="#f5f5f5"/><rect x="760" y="364" width="1" height="1" fill="#2b6142"/><rect x="1182" y="364" width="1" height="1" fill="#000000"/><rect x="1183" y="364" width="1" height="1" fill="#f1f1f1"/><rect x="124" y="365" width="1" height="1" fill="#f8f8f8"/><rect x="125" y="365" width="3" height="1" fill="#f1f1f1"/><rect x="128" y="365" width="1" height="1" fill="#e3e3e3"/><rect x="498" y="365" width="1" height="1" fill="#5e6e65"/><rect x="499" y="365" width="1" height="1" fill="#ffffff"/><rect x="500" y="365" width="1" height="1" fill="#54665c"/><rect x="758" y="365" width="1" height="1" fill="#bababa"/><rect x="759" y="365" width="1" height="1" fill="#f5f5f5"/><rect x="760" y="365" width="1" height="1" fill="#2b6142"/><rect x="1182" y="365" width="1" height="1" fill="#000000"/><rect x="1183" y="365" width="1" height="1" fill="#f1f1f1"/><rect x="128" y="366" width="1" height="34" fill="#f1f1f1"/><rect x="498" y="366" width="1" height="34" fill="#5e6e65"/><rect x="499" y="366" width="1" height="34" fill="#ffffff"/><rect x="500" y="366" width="1" height="34" fill="#54665c"/><rect x="758" y="366" width="1" height="34" fill="#bababa"/><rect x="759" y="366" width="1" height="34" fill="#f5f5f5"/><rect x="760" y="366" width="1" height="34" fill="#2b6142"/><rect x="1182" y="366" width="1" height="34" fill="#000000"/><rect x="1183" y="366" width="1" height="34" fill="#f1f1f1"/><rect x="129" y="400" width="1053" height="1" fill="#000" fill-opacity="0.313"/><rect x="128" y="400" width="1" height="1" fill="#f1f1f1"/><rect x="370" y="400" width="1" height="1" fill="#6f7571"/><rect x="371" y="400" width="1" height="1" fill="#5f6561"/><rect x="499" y="400" width="1" height="1" fill="#3f614e"/><rect x="759" y="400" width="1" height="1" fill="#3c5d4b"/><rect x="828" y="400" width="1" height="1" fill="#384840"/><rect x="829" y="400" width="1" height="1" fill="#7c837f"/><rect x="830" y="400" width="1" height="1" fill="#38473e"/><rect x="872" y="400" width="1" height="1" fill="#4c5450"/><rect x="873" y="400" width="1" height="1" fill="#7c837f"/><rect x="897" y="400" width="1" height="1" fill="#525854"/><rect x="898" y="400" width="1" height="1" fill="#7c837f"/><rect x="959" y="400" width="1" height="1" fill="#48524c"/><rect x="960" y="400" width="1" height="1" fill="#7c837f"/><rect x="961" y="400" width="1" height="1" fill="#2d4337"/><rect x="1182" y="400" width="1" height="1" fill="#000000"/><rect x="1183" y="400" width="1" height="1" fill="#f1f1f1"/><rect x="128" y="401" width="1" height="35" fill="#f1f1f1"/><rect x="369" y="401" width="1" height="35" fill="#2b5b3f"/><rect x="370" y="401" width="1" height="35" fill="#e3e3e3"/><rect x="371" y="401" width="1" height="35" fill="#b3b3b3"/><rect x="828" y="401" width="1" height="35" fill="#5a6a61"/><rect x="829" y="401" width="1" height="35" fill="#ffffff"/><rect x="830" y="401" width="1" height="35" fill="#55665d"/><rect x="872" y="401" width="1" height="35" fill="#939594"/><rect x="873" y="401" width="1" height="35" fill="#ffffff"/><rect x="874" y="401" width="1" height="35" fill="#365f48"/><rect x="897" y="401" width="1" height="35" fill="#a3a4a3"/><rect x="898" y="401" width="1" height="35" fill="#ffffff"/><rect x="899" y="401" width="1" height="35" fill="#2e5d43"/><rect x="959" y="401" width="1" height="35" fill="#7f8581"/><rect x="960" y="401" width="1" height="35" fill="#ffffff"/><rect x="961" y="401" width="1" height="35" fill="#436351"/><rect x="1182" y="401" width="1" height="35" fill="#000000"/><rect x="1183" y="401" width="1" height="35" fill="#f1f1f1"/><rect x="124" y="436" width="1" height="1" fill="#f8f8f8"/><rect x="125" y="436" width="3" height="1" fill="#f1f1f1"/><rect x="128" y="436" width="1" height="1" fill="#e3e3e3"/><rect x="369" y="436" width="1" height="1" fill="#2b5b3f"/><rect x="370" y="436" width="1" height="1" fill="#e3e3e3"/><rect x="371" y="436" width="1" height="1" fill="#b3b3b3"/><rect x="828" y="436" width="1" height="1" fill="#5a6a61"/><rect x="829" y="436" width="1" height="1" fill="#ffffff"/><rect x="830" y="436" width="1" height="1" fill="#55665d"/><rect x="872" y="436" width="1" height="1" fill="#939594"/><rect x="873" y="436" width="1" height="1" fill="#ffffff"/><rect x="874" y="436" width="1" height="1" fill="#365f48"/><rect x="897" y="436" width="1" height="1" fill="#a3a4a3"/><rect x="898" y="436" width="1" height="1" fill="#ffffff"/><rect x="899" y="436" width="1" height="1" fill="#2e5d43"/><rect x="959" y="436" width="1" height="1" fill="#7f8581"/><rect x="960" y="436" width="1" height="1" fill="#ffffff"/><rect x="961" y="436" width="1" height="1" fill="#436351"/><rect x="1182" y="436" width="1" height="1" fill="#000000"/><rect x="1183" y="436" width="1" height="1" fill="#f1f1f1"/><rect x="124" y="437" width="1" height="1" fill="#7f7f7f"/><rect x="125" y="437" width="4" height="1" fill="#000000"/><rect x="369" y="437" width="1" height="1" fill="#2b5b3f"/><rect x="370" y="437" width="1" height="1" fill="#e3e3e3"/><rect x="371" y="437" width="1" height="1" fill="#b3b3b3"/><rect x="828" y="437" width="1" height="1" fill="#5a6a61"/><rect x="829" y="437" width="1" height="1" fill="#ffffff"/><rect x="830" y="437" width="1" height="1" fill="#55665d"/><rect x="872" y="437" width="1" height="1" fill="#939594"/><rect x="873" y="437" width="1" height="1" fill="#ffffff"/><rect x="874" y="437" width="1" height="1" fill="#365f48"/><rect x="897" y="437" width="1" height="1" fill="#a3a4a3"/><rect x="898" y="437" width="1" height="1" fill="#ffffff"/><rect x="899" y="437" width="1" height="1" fill="#2e5d43"/><rect x="959" y="437" width="1" height="1" fill="#7f8581"/><rect x="960" y="437" width="1" height="1" fill="#ffffff"/><rect x="961" y="437" width="1" height="1" fill="#436351"/><rect x="1182" y="437" width="1" height="1" fill="#000000"/><rect x="1183" y="437" width="1" height="1" fill="#f1f1f1"/><rect x="124" y="438" width="1" height="1" fill="#f8f8f8"/><rect x="125" y="438" width="3" height="1" fill="#f1f1f1"/><rect x="128" y="438" width="1" height="1" fill="#e3e3e3"/><rect x="369" y="438" width="1" height="1" fill="#2b5b3f"/><rect x="370" y="438" width="1" height="1" fill="#e3e3e3"/><rect x="371" y="438" width="1" height="1" fill="#b3b3b3"/><rect x="828" y="438" width="1" height="1" fill="#5a6a61"/><rect x="829" y="438" width="1" height="1" fill="#ffffff"/><rect x="830" y="438" width="1" height="1" fill="#55665d"/><rect x="872" y="438" width="1" height="1" fill="#939594"/><rect x="873" y="438" width="1" height="1" fill="#ffffff"/><rect x="874" y="438" width="1" height="1" fill="#365f48"/><rect x="897" y="438" width="1" height="1" fill="#a3a4a3"/><rect x="898" y="438" width="1" height="1" fill="#ffffff"/><rect x="899" y="438" width="1" height="1" fill="#2e5d43"/><rect x="959" y="438" width="1" height="1" fill="#7f8581"/><rect x="960" y="438" width="1" height="1" fill="#ffffff"/><rect x="961" y="438" width="1" height="1" fill="#436351"/><rect x="1182" y="438" width="1" height="1" fill="#000000"/><rect x="1183" y="438" width="1" height="1" fill="#f1f1f1"/><rect x="128" y="439" width="1" height="34" fill="#f1f1f1"/><rect x="369" y="439" width="1" height="34" fill="#2b5b3f"/><rect x="370" y="439" width="1" height="34" fill="#e3e3e3"/><rect x="371" y="439" width="1" height="34" fill="#b3b3b3"/><rect x="828" y="439" width="1" height="34" fill="#5a6a61"/><rect x="829" y="439" width="1" height="34" fill="#ffffff"/><rect x="830" y="439" width="1" height="34" fill="#55665d"/><rect x="872" y="439" width="1" height="34" fill="#939594"/><rect x="873" y="439" width="1" height="34" fill="#ffffff"/><rect x="874" y="439" width="1" height="34" fill="#365f48"/><rect x="897" y="439" width="1" height="34" fill="#a3a4a3"/><rect x="898" y="439" width="1" height="34" fill="#ffffff"/><rect x="899" y="439" width="1" height="34" fill="#2e5d43"/><rect x="959" y="439" width="1" height="34" fill="#7f8581"/><rect x="960" y="439" width="1" height="34" fill="#ffffff"/><rect x="961" y="439" width="1" height="34" fill="#436351"/><rect x="1182" y="439" width="1" height="34" fill="#000000"/><rect x="1183" y="439" width="1" height="34" fill="#f1f1f1"/><rect x="129" y="473" width="1053" height="1" fill="#000" fill-opacity="0.393"/><rect x="128" y="473" width="1" height="1" fill="#f1f1f1"/><rect x="139" y="473" width="1" height="1" fill="#2e4036"/><rect x="140" y="473" width="1" height="1" fill="#4e6357"/><rect x="141" y="473" width="1" height="1" fill="#2b3e34"/><rect x="164" y="473" width="1" height="1" fill="#324239"/><rect x="165" y="473" width="1" height="1" fill="#4e6357"/><rect x="166" y="473" width="1" height="1" fill="#293d32"/><rect x="179" y="473" width="1" height="1" fill="#44544b"/><rect x="180" y="473" width="1" height="1" fill="#435349"/><rect x="187" y="473" width="1" height="1" fill="#35443c"/><rect x="188" y="473" width="1" height="1" fill="#4e6357"/><rect x="210" y="473" width="1" height="1" fill="#3a4740"/><rect x="211" y="473" width="1" height="1" fill="#4e6357"/><rect x="370" y="473" width="1" height="1" fill="#47584e"/><rect x="371" y="473" width="1" height="1" fill="#3b4a42"/><rect x="828" y="473" width="1" height="1" fill="#263a30"/><rect x="829" y="473" width="1" height="1" fill="#55665d"/><rect x="830" y="473" width="1" height="1" fill="#24372c"/><rect x="872" y="473" width="1" height="1" fill="#2f3f36"/><rect x="873" y="473" width="1" height="1" fill="#55665d"/><rect x="876" y="473" width="1" height="1" fill="#324339"/><rect x="877" y="473" width="1" height="1" fill="#4e6357"/><rect x="878" y="473" width="1" height="1" fill="#3e4943"/><rect x="879" y="473" width="1" height="1" fill="#4e6357"/><rect x="880" y="473" width="1" height="1" fill="#3e4943"/><rect x="881" y="473" width="1" height="1" fill="#4e6357"/><rect x="882" y="473" width="1" height="1" fill="#2a3f33"/><rect x="884" y="473" width="1" height="1" fill="#273b2f"/><rect x="885" y="473" width="1" height="1" fill="#4e6357"/><rect x="886" y="473" width="1" height="1" fill="#2e3d35"/><rect x="897" y="473" width="1" height="1" fill="#314238"/><rect x="898" y="473" width="1" height="1" fill="#55665d"/><rect x="959" y="473" width="1" height="1" fill="#2d4036"/><rect x="960" y="473" width="1" height="1" fill="#55665d"/><rect x="1001" y="473" width="1" height="1" fill="#47594f"/><rect x="1002" y="473" width="1" height="1" fill="#3e4c44"/><rect x="1003" y="473" width="1" height="1" fill="#43534a"/><rect x="1004" y="473" width="1" height="1" fill="#45554c"/><rect x="1181" y="473" width="1" height="1" fill="#42564c"/><rect x="1182" y="473" width="1" height="1" fill="#000000"/><rect x="1183" y="473" width="1" height="1" fill="#f1f1f1"/><rect x="128" y="474" width="1" height="35" fill="#f1f1f1"/><rect x="139" y="474" width="1" height="35" fill="#6c7771"/><rect x="140" y="474" width="1" height="35" fill="#ffffff"/><rect x="141" y="474" width="1" height="35" fill="#4d6457"/><rect x="164" y="474" width="1" height="35" fill="#79817d"/><rect x="165" y="474" width="1" height="35" fill="#ffffff"/><rect x="166" y="474" width="1" height="35" fill="#466353"/><rect x="178" y="474" width="1" height="35" fill="#235c3c"/><rect x="179" y="474" width="1" height="35" fill="#d8d8d8"/><rect x="180" y="474" width="1" height="35" fill="#c6c6c6"/><rect x="181" y="474" width="1" height="35" fill="#296d47"/><rect x="187" y="474" width="1" height="35" fill="#8f9290"/><rect x="188" y="474" width="1" height="35" fill="#ffffff"/><rect x="189" y="474" width="1" height="35" fill="#39604a"/><rect x="210" y="474" width="1" height="35" fill="#aeaeae"/><rect x="211" y="474" width="1" height="35" fill="#ffffff"/><rect x="212" y="474" width="1" height="35" fill="#2c5d41"/><rect x="876" y="474" width="1" height="35" fill="#818884"/><rect x="877" y="474" width="1" height="35" fill="#ffffff"/><rect x="878" y="474" width="1" height="35" fill="#8b8b8b"/><rect x="879" y="474" width="1" height="35" fill="#ffffff"/><rect x="880" y="474" width="1" height="35" fill="#868686"/><rect x="881" y="474" width="1" height="35" fill="#ffffff"/><rect x="882" y="474" width="1" height="35" fill="#4d6457"/><rect x="884" y="474" width="1" height="35" fill="#52655b"/><rect x="885" y="474" width="1" height="35" fill="#ffffff"/><rect x="886" y="474" width="1" height="35" fill="#59675f"/><rect x="1000" y="474" width="1" height="35" fill="#2c5941"/><rect x="1001" y="474" width="1" height="35" fill="#e6e6e6"/><rect x="1002" y="474" width="1" height="35" fill="#aeaeae"/><rect x="1003" y="474" width="1" height="35" fill="#d3d3d3"/><rect x="1004" y="474" width="1" height="35" fill="#cfcfcf"/><rect x="1005" y="474" width="1" height="35" fill="#296a46"/><rect x="1182" y="474" width="1" height="35" fill="#000000"/><rect x="1183" y="474" width="1" height="35" fill="#f1f1f1"/><rect x="124" y="509" width="1" height="1" fill="#f8f8f8"/><rect x="125" y="509" width="3" height="1" fill="#f1f1f1"/><rect x="128" y="509" width="1" height="1" fill="#e3e3e3"/><rect x="139" y="509" width="1" height="1" fill="#6c7771"/><rect x="140" y="509" width="1" height="1" fill="#ffffff"/><rect x="141" y="509" width="1" height="1" fill="#4d6457"/><rect x="164" y="509" width="1" height="1" fill="#79817d"/><rect x="165" y="509" width="1" height="1" fill="#ffffff"/><rect x="166" y="509" width="1" height="1" fill="#466353"/><rect x="178" y="509" width="1" height="1" fill="#235c3c"/><rect x="179" y="509" width="1" height="1" fill="#d8d8d8"/><rect x="180" y="509" width="1" height="1" fill="#c6c6c6"/><rect x="181" y="509" width="1" height="1" fill="#296d47"/><rect x="187" y="509" width="1" height="1" fill="#8f9290"/><rect x="188" y="509" width="1" height="1" fill="#ffffff"/><rect x="189" y="509" width="1" height="1" fill="#39604a"/><rect x="210" y="509" width="1" height="1" fill="#aeaeae"/><rect x="211" y="509" width="1" height="1" fill="#ffffff"/><rect x="212" y="509" width="1" height="1" fill="#2c5d41"/><rect x="876" y="509" width="1" height="1" fill="#818884"/><rect x="877" y="509" width="1" height="1" fill="#ffffff"/><rect x="878" y="509" width="1" height="1" fill="#8b8b8b"/><rect x="879" y="509" width="1" height="1" fill="#ffffff"/><rect x="880" y="509" width="1" height="1" fill="#868686"/><rect x="881" y="509" width="1" height="1" fill="#ffffff"/><rect x="882" y="509" width="1" height="1" fill="#4d6457"/><rect x="884" y="509" width="1" height="1" fill="#52655b"/><rect x="885" y="509" width="1" height="1" fill="#ffffff"/><rect x="886" y="509" width="1" height="1" fill="#59675f"/><rect x="1000" y="509" width="1" height="1" fill="#2c5941"/><rect x="1001" y="509" width="1" height="1" fill="#e6e6e6"/><rect x="1002" y="509" width="1" height="1" fill="#aeaeae"/><rect x="1003" y="509" width="1" height="1" fill="#d3d3d3"/><rect x="1004" y="509" width="1" height="1" fill="#cfcfcf"/><rect x="1005" y="509" width="1" height="1" fill="#296a46"/><rect x="1182" y="509" width="1" height="1" fill="#000000"/><rect x="1183" y="509" width="1" height="1" fill="#f1f1f1"/><rect x="124" y="510" width="1" height="1" fill="#7f7f7f"/><rect x="125" y="510" width="4" height="1" fill="#000000"/><rect x="139" y="510" width="1" height="1" fill="#6c7771"/><rect x="140" y="510" width="1" height="1" fill="#ffffff"/><rect x="141" y="510" width="1" height="1" fill="#4d6457"/><rect x="164" y="510" width="1" height="1" fill="#79817d"/><rect x="165" y="510" width="1" height="1" fill="#ffffff"/><rect x="166" y="510" width="1" height="1" fill="#466353"/><rect x="178" y="510" width="1" height="1" fill="#235c3c"/><rect x="179" y="510" width="1" height="1" fill="#d8d8d8"/><rect x="180" y="510" width="1" height="1" fill="#c6c6c6"/><rect x="181" y="510" width="1" height="1" fill="#296d47"/><rect x="187" y="510" width="1" height="1" fill="#8f9290"/><rect x="188" y="510" width="1" height="1" fill="#ffffff"/><rect x="189" y="510" width="1" height="1" fill="#39604a"/><rect x="210" y="510" width="1" height="1" fill="#aeaeae"/><rect x="211" y="510" width="1" height="1" fill="#ffffff"/><rect x="212" y="510" width="1" height="1" fill="#2c5d41"/><rect x="876" y="510" width="1" height="1" fill="#818884"/><rect x="877" y="510" width="1" height="1" fill="#ffffff"/><rect x="878" y="510" width="1" height="1" fill="#8b8b8b"/><rect x="879" y="510" width="1" height="1" fill="#ffffff"/><rect x="880" y="510" width="1" height="1" fill="#868686"/><rect x="881" y="510" width="1" height="1" fill="#ffffff"/><rect x="882" y="510" width="1" height="1" fill="#4d6457"/><rect x="884" y="510" width="1" height="1" fill="#52655b"/><rect x="885" y="510" width="1" height="1" fill="#ffffff"/><rect x="886" y="510" width="1" height="1" fill="#59675f"/><rect x="1000" y="510" width="1" height="1" fill="#2c5941"/><rect x="1001" y="510" width="1" height="1" fill="#e6e6e6"/><rect x="1002" y="510" width="1" height="1" fill="#aeaeae"/><rect x="1003" y="510" width="1" height="1" fill="#d3d3d3"/><rect x="1004" y="510" width="1" height="1" fill="#cfcfcf"/><rect x="1005" y="510" width="1" height="1" fill="#296a46"/><rect x="1182" y="510" width="1" height="1" fill="#000000"/><rect x="1183" y="510" width="1" height="1" fill="#f1f1f1"/><rect x="124" y="511" width="1" height="1" fill="#f8f8f8"/><rect x="125" y="511" width="3" height="1" fill="#f1f1f1"/><rect x="128" y="511" width="1" height="1" fill="#e3e3e3"/><rect x="139" y="511" width="1" height="1" fill="#6c7771"/><rect x="140" y="511" width="1" height="1" fill="#ffffff"/><rect x="141" y="511" width="1" height="1" fill="#4d6457"/><rect x="164" y="511" width="1" height="1" fill="#79817d"/><rect x="165" y="511" width="1" height="1" fill="#ffffff"/><rect x="166" y="511" width="1" height="1" fill="#466353"/><rect x="178" y="511" width="1" height="1" fill="#235c3c"/><rect x="179" y="511" width="1" height="1" fill="#d8d8d8"/><rect x="180" y="511" width="1" height="1" fill="#c6c6c6"/><rect x="181" y="511" width="1" height="1" fill="#296d47"/><rect x="187" y="511" width="1" height="1" fill="#8f9290"/><rect x="188" y="511" width="1" height="1" fill="#ffffff"/><rect x="189" y="511" width="1" height="1" fill="#39604a"/><rect x="210" y="511" width="1" height="1" fill="#aeaeae"/><rect x="211" y="511" width="1" height="1" fill="#ffffff"/><rect x="212" y="511" width="1" height="1" fill="#2c5d41"/><rect x="876" y="511" width="1" height="1" fill="#818884"/><rect x="877" y="511" width="1" height="1" fill="#ffffff"/><rect x="878" y="511" width="1" height="1" fill="#8b8b8b"/><rect x="879" y="511" width="1" height="1" fill="#ffffff"/><rect x="880" y="511" width="1" height="1" fill="#868686"/><rect x="881" y="511" width="1" height="1" fill="#ffffff"/><rect x="882" y="511" width="1" height="1" fill="#4d6457"/><rect x="884" y="511" width="1" height="1" fill="#52655b"/><rect x="885" y="511" width="1" height="1" fill="#ffffff"/><rect x="886" y="511" width="1" height="1" fill="#59675f"/><rect x="1000" y="511" width="1" height="1" fill="#2c5941"/><rect x="1001" y="511" width="1" height="1" fill="#e6e6e6"/><rect x="1002" y="511" width="1" height="1" fill="#aeaeae"/><rect x="1003" y="511" width="1" height="1" fill="#d3d3d3"/><rect x="1004" y="511" width="1" height="1" fill="#cfcfcf"/><rect x="1005" y="511" width="1" height="1" fill="#296a46"/><rect x="1182" y="511" width="1" height="1" fill="#000000"/><rect x="1183" y="511" width="1" height="1" fill="#f1f1f1"/><rect x="128" y="512" width="1" height="34" fill="#f1f1f1"/><rect x="139" y="512" width="1" height="34" fill="#6c7771"/><rect x="140" y="512" width="1" height="34" fill="#ffffff"/><rect x="141" y="512" width="1" height="34" fill="#4d6457"/><rect x="164" y="512" width="1" height="34" fill="#79817d"/><rect x="165" y="512" width="1" height="34" fill="#ffffff"/><rect x="166" y="512" width="1" height="34" fill="#466353"/><rect x="178" y="512" width="1" height="34" fill="#235c3c"/><rect x="179" y="512" width="1" height="34" fill="#d8d8d8"/><rect x="180" y="512" width="1" height="34" fill="#c6c6c6"/><rect x="181" y="512" width="1" height="34" fill="#296d47"/><rect x="187" y="512" width="1" height="34" fill="#8f9290"/><rect x="188" y="512" width="1" height="34" fill="#ffffff"/><rect x="189" y="512" width="1" height="34" fill="#39604a"/><rect x="210" y="512" width="1" height="34" fill="#aeaeae"/><rect x="211" y="512" width="1" height="34" fill="#ffffff"/><rect x="212" y="512" width="1" height="34" fill="#2c5d41"/><rect x="876" y="512" width="1" height="34" fill="#818884"/><rect x="877" y="512" width="1" height="34" fill="#ffffff"/><rect x="878" y="512" width="1" height="34" fill="#8b8b8b"/><rect x="879" y="512" width="1" height="34" fill="#ffffff"/><rect x="880" y="512" width="1" height="34" fill="#868686"/><rect x="881" y="512" width="1" height="34" fill="#ffffff"/><rect x="882" y="512" width="1" height="34" fill="#4d6457"/><rect x="884" y="512" width="1" height="34" fill="#52655b"/><rect x="885" y="512" width="1" height="34" fill="#ffffff"/><rect x="886" y="512" width="1" height="34" fill="#59675f"/><rect x="1000" y="512" width="1" height="34" fill="#2c5941"/><rect x="1001" y="512" width="1" height="34" fill="#e6e6e6"/><rect x="1002" y="512" width="1" height="34" fill="#aeaeae"/><rect x="1003" y="512" width="1" height="34" fill="#d3d3d3"/><rect x="1004" y="512" width="1" height="34" fill="#cfcfcf"/><rect x="1005" y="512" width="1" height="34" fill="#296a46"/><rect x="1182" y="512" width="1" height="34" fill="#000000"/><rect x="1183" y="512" width="1" height="34" fill="#f1f1f1"/><rect x="129" y="546" width="1053" height="1" fill="#000" fill-opacity="0.198"/><rect x="128" y="546" width="1" height="1" fill="#f0f0f0"/><rect x="139" y="546" width="1" height="1" fill="#5a635e"/><rect x="140" y="546" width="1" height="1" fill="#c7c7c7"/><rect x="141" y="546" width="1" height="1" fill="#3d5246"/><rect x="164" y="546" width="1" height="1" fill="#656a67"/><rect x="165" y="546" width="1" height="1" fill="#c7c7c7"/><rect x="166" y="546" width="1" height="1" fill="#375043"/><rect x="179" y="546" width="1" height="1" fill="#a8a8a8"/><rect x="180" y="546" width="1" height="1" fill="#9a9a9a"/><rect x="187" y="546" width="1" height="1" fill="#727573"/><rect x="188" y="546" width="1" height="1" fill="#c7c7c7"/><rect x="210" y="546" width="1" height="1" fill="#878888"/><rect x="211" y="546" width="1" height="1" fill="#c7c7c7"/><rect x="876" y="546" width="1" height="1" fill="#696f6b"/><rect x="877" y="546" width="1" height="1" fill="#c7c7c7"/><rect x="878" y="546" width="1" height="1" fill="#737373"/><rect x="879" y="546" width="1" height="1" fill="#c7c7c7"/><rect x="880" y="546" width="1" height="1" fill="#6f6f6f"/><rect x="881" y="546" width="1" height="1" fill="#c7c7c7"/><rect x="882" y="546" width="1" height="1" fill="#3d5246"/><rect x="884" y="546" width="1" height="1" fill="#46554d"/><rect x="885" y="546" width="1" height="1" fill="#c7c7c7"/><rect x="886" y="546" width="1" height="1" fill="#45534c"/><rect x="1001" y="546" width="1" height="1" fill="#b3b3b3"/><rect x="1002" y="546" width="1" height="1" fill="#878787"/><rect x="1003" y="546" width="1" height="1" fill="#a4a4a4"/><rect x="1004" y="546" width="1" height="1" fill="#a1a1a1"/><rect x="1182" y="546" width="1" height="1" fill="#000000"/><rect x="1183" y="546" width="1" height="1" fill="#f0f0f0"/><rect x="128" y="547" width="1" height="1" fill="#dddddd"/><rect x="129" y="547" width="1054" height="1" fill="#000000"/><rect x="1183" y="547" width="1" height="1" fill="#e3e3e3"/><rect x="128" y="548" width="1" height="1" fill="#efefef"/><rect x="129" y="548" width="1" height="1" fill="#000000"/><rect x="130" y="548" width="1" height="1" fill="#e2e2e2"/><rect x="131" y="548" width="205" height="1" fill="#f1f1f1"/><rect x="336" y="548" width="1" height="1" fill="#e3e3e3"/><rect x="337" y="548" width="1" height="1" fill="#000000"/><rect x="338" y="548" width="1" height="1" fill="#e3e3e3"/><rect x="339" y="548" width="204" height="1" fill="#f1f1f1"/><rect x="543" y="548" width="1" height="1" fill="#e3e3e3"/><rect x="544" y="548" width="1" height="1" fill="#000000"/><rect x="545" y="548" width="1" height="1" fill="#e3e3e3"/><rect x="546" y="548" width="205" height="1" fill="#f1f1f1"/><rect x="751" y="548" width="1" height="1" fill="#e3e3e3"/><rect x="752" y="548" width="1" height="1" fill="#000000"/><rect x="753" y="548" width="1" height="1" fill="#e3e3e3"/><rect x="754" y="548" width="204" height="1" fill="#f1f1f1"/><rect x="958" y="548" width="1" height="1" fill="#e3e3e3"/><rect x="959" y="548" width="1" height="1" fill="#000000"/><rect x="960" y="548" width="1" height="1" fill="#e3e3e3"/><rect x="961" y="548" width="205" height="1" fill="#f1f1f1"/><rect x="1166" y="548" width="1" height="1" fill="#e3e3e3"/><rect x="1167" y="548" width="1" height="1" fill="#000000"/><rect x="1168" y="548" width="1" height="1" fill="#e3e3e3"/><rect x="1169" y="548" width="12" height="1" fill="#f1f1f1"/><rect x="1181" y="548" width="1" height="1" fill="#f0f0f0"/><rect x="1182" y="548" width="1" height="1" fill="#e3e3e3"/><rect x="1183" y="548" width="1" height="1" fill="#fdfdfd"/><rect x="128" y="549" width="1" height="3" fill="#f1f1f1"/><rect x="129" y="549" width="1" height="3" fill="#000000"/><rect x="130" y="549" width="1" height="3" fill="#f1f1f1"/><rect x="336" y="549" width="1" height="3" fill="#f1f1f1"/><rect x="337" y="549" width="1" height="3" fill="#000000"/><rect x="338" y="549" width="1" height="3" fill="#f1f1f1"/><rect x="543" y="549" width="1" height="3" fill="#f1f1f1"/><rect x="544" y="549" width="1" height="3" fill="#000000"/><rect x="545" y="549" width="1" height="3" fill="#f1f1f1"/><rect x="751" y="549" width="1" height="3" fill="#f1f1f1"/><rect x="752" y="549" width="1" height="3" fill="#000000"/><rect x="753" y="549" width="1" height="3" fill="#f1f1f1"/><rect x="958" y="549" width="1" height="3" fill="#f1f1f1"/><rect x="959" y="549" width="1" height="3" fill="#000000"/><rect x="960" y="549" width="1" height="3" fill="#f1f1f1"/><rect x="1166" y="549" width="1" height="3" fill="#f1f1f1"/><rect x="1167" y="549" width="1" height="3" fill="#000000"/><rect x="1168" y="549" width="1" height="3" fill="#f1f1f1"/><rect x="128" y="552" width="1" height="1" fill="#f8f8f8"/><rect x="129" y="552" width="1" height="1" fill="#7f7f7f"/><rect x="130" y="552" width="1" height="1" fill="#f8f8f8"/><rect x="336" y="552" width="1" height="1" fill="#f8f8f8"/><rect x="337" y="552" width="1" height="1" fill="#7f7f7f"/><rect x="338" y="552" width="1" height="1" fill="#f8f8f8"/><rect x="543" y="552" width="1" height="1" fill="#f8f8f8"/><rect x="544" y="552" width="1" height="1" fill="#7f7f7f"/><rect x="545" y="552" width="1" height="1" fill="#f8f8f8"/><rect x="751" y="552" width="1" height="1" fill="#f8f8f8"/><rect x="752" y="552" width="1" height="1" fill="#7f7f7f"/><rect x="753" y="552" width="1" height="1" fill="#f8f8f8"/><rect x="958" y="552" width="1" height="1" fill="#f8f8f8"/><rect x="959" y="552" width="1" height="1" fill="#7f7f7f"/><rect x="960" y="552" width="1" height="1" fill="#f8f8f8"/><rect x="1166" y="552" width="1" height="1" fill="#f8f8f8"/><rect x="1167" y="552" width="1" height="1" fill="#7f7f7f"/><rect x="1168" y="552" width="1" height="1" fill="#f8f8f8"/></g>
<text x="119.3" y="75.24" text-anchor="end" class="tk" textLength="49.4" lengthAdjust="spacingAndGlyphs">BCR (507)</text>
<text x="119.3" y="148.53" text-anchor="end" class="tk" textLength="47.8" lengthAdjust="spacingAndGlyphs">miR (506)</text>
<text x="119.3" y="221.81" text-anchor="end" class="tk" textLength="63.6" lengthAdjust="spacingAndGlyphs">Clinical (506)</text>
<text x="119.3" y="295.10" text-anchor="end" class="tk" textLength="85.8" lengthAdjust="spacingAndGlyphs">Methylation (506)</text>
<text x="119.3" y="368.39" text-anchor="end" class="tk" textLength="42.8" lengthAdjust="spacingAndGlyphs">CN (505)</text>
<text x="119.3" y="441.67" text-anchor="end" class="tk" textLength="58.4" lengthAdjust="spacingAndGlyphs">mRNA (502)</text>
<text x="119.3" y="514.96" text-anchor="end" class="tk" textLength="49.2" lengthAdjust="spacingAndGlyphs">MAF (496)</text>
<text x="130.2" y="563.6" text-anchor="middle" class="tk" textLength="5.9" lengthAdjust="spacingAndGlyphs">0</text>
<text x="336.7" y="563.6" text-anchor="middle" class="tk" textLength="17.6" lengthAdjust="spacingAndGlyphs">100</text>
<text x="544.7" y="563.6" text-anchor="middle" class="tk" textLength="17.6" lengthAdjust="spacingAndGlyphs">200</text>
<text x="751.7" y="563.6" text-anchor="middle" class="tk" textLength="17.6" lengthAdjust="spacingAndGlyphs">300</text>
<text x="959.7" y="563.6" text-anchor="middle" class="tk" textLength="17.6" lengthAdjust="spacingAndGlyphs">400</text>
<text x="1166.7" y="563.6" text-anchor="middle" class="tk" textLength="17.6" lengthAdjust="spacingAndGlyphs">500</text>
<g class="ttl"><text x="460.5" y="25.9" textLength="96.49" lengthAdjust="spacingAndGlyphs">TCGA-THCA:</text><text x="561.5" y="25.9" textLength="36.04" lengthAdjust="spacingAndGlyphs">Data</text><text x="604.0" y="25.9" textLength="36.43" lengthAdjust="spacingAndGlyphs">Type</text><text x="646.0" y="25.9" textLength="87.7" lengthAdjust="spacingAndGlyphs">Breakdown</text><text x="740.0" y="25.9" textLength="16.74" lengthAdjust="spacingAndGlyphs">by</text><text x="763.5" y="25.9" textLength="86.03" lengthAdjust="spacingAndGlyphs">Participant</text></g>
<text x="655.1" y="581.8" text-anchor="middle" class="lab" textLength="71.8" lengthAdjust="spacingAndGlyphs">Participant</text>
<g class="lab" transform="translate(24,0) rotate(-90)"><text x="-395.50" y="0" textLength="29.23" lengthAdjust="spacingAndGlyphs">Data</text><text x="-360.50" y="0" textLength="31.68" lengthAdjust="spacingAndGlyphs">Type</text><text x="-325.30" y="0" textLength="39.9" lengthAdjust="spacingAndGlyphs">(Total</text><text x="-282.50" y="0" textLength="48.15" lengthAdjust="spacingAndGlyphs">Sample</text><text x="-230.00" y="0" textLength="43.92" lengthAdjust="spacingAndGlyphs">Count)</text></g>
<rect x="1083.5" y="41.5" width="92" height="42" rx="2.5" fill="#fff" fill-opacity="0.8" stroke="#ccc" stroke-opacity="0.8" stroke-width="1.11"/>
<rect x="1088" y="47" width="25" height="8.7" fill="#2e8b57"/>
<rect x="1088" y="66" width="25" height="8.8" fill="#fff"/>
<text x="1123" y="55.7" class="leg" textLength="46.9" lengthAdjust="spacingAndGlyphs">Present</text>
<text x="1123" y="74.5" class="leg" textLength="41.9" lengthAdjust="spacingAndGlyphs">Absent</text>
</svg>
</body></html>
